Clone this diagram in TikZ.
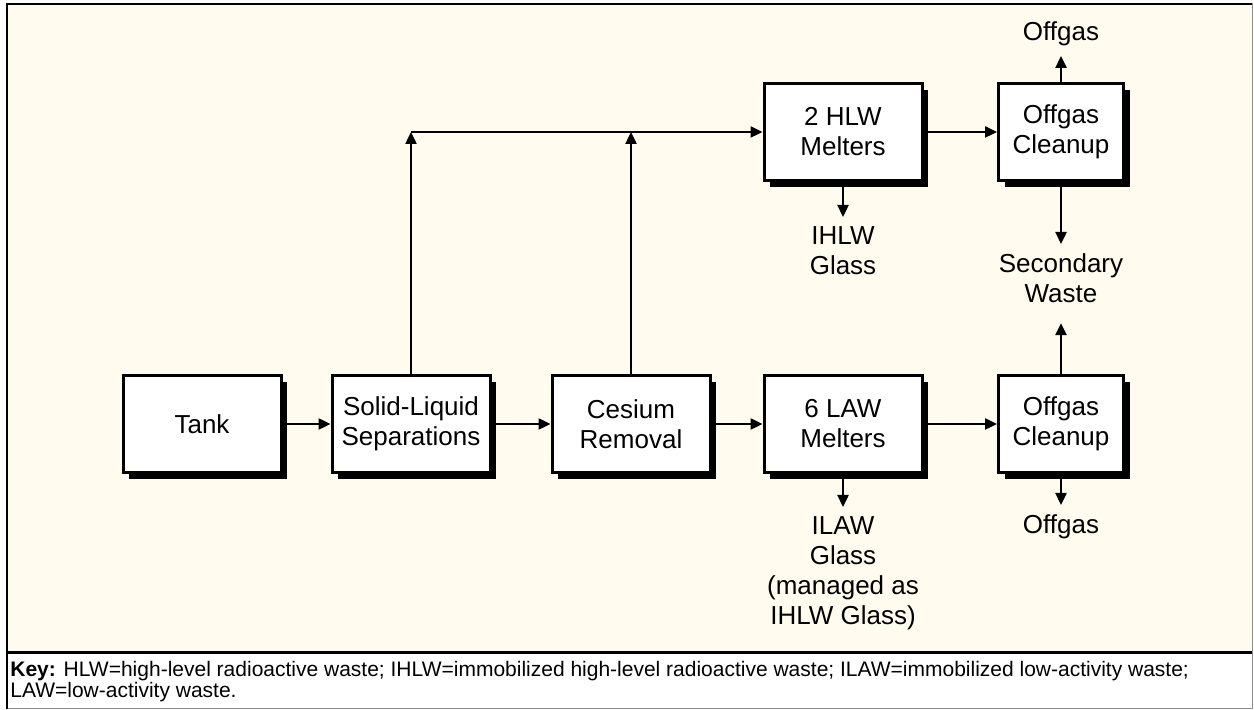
\documentclass[tikz,border=0pt]{standalone}
\usepackage{fontspec}
\setmainfont{Liberation Sans}
\usetikzlibrary{arrows.meta,shadows}
\definecolor{cream}{RGB}{255,252,239}
\definecolor{framegray}{RGB}{140,140,140}
\newcommand\bxfont{\fontsize{13}{15}\selectfont}
\newcommand\kyfont{\fontsize{10.5}{10.2}\selectfont}
\begin{document}
\begin{tikzpicture}[x=0.5pt,y=-0.5pt,
  box/.style={draw=black, line width=1.5pt, fill=white, minimum width=79pt,
    minimum height=48.5pt, align=center, font=\bxfont, inner sep=0pt,
    drop shadow={shadow xshift=3.2pt, shadow yshift=-3.2pt, fill=black, opacity=1}},
  sbox/.style={box, minimum width=62.5pt},
  lab/.style={font=\bxfont, align=center, inner sep=0pt, outer ysep=5pt},
  arr/.style={line width=1.2pt, -{Triangle[length=6pt,width=5.5pt]}}]
\useasboundingbox (0,0) rectangle (1254,710);
\fill[white] (0,0) rectangle (1254,710);
\fill[cream] (7,4) rectangle (1252,653);
\draw[framegray, line width=0.5pt] (7,4) rectangle (1252,709);
\draw[black, line width=1.3pt] (7,709) -- (7,4) -- (1252,4);
\draw[black, line width=1.5pt] (7,653) -- (1252,653);

\node[box] (tank) at (202,424) {Tank};
\node[box] (sl) at (411,424) {Solid-Liquid\\Separations};
\node[box] (cs) at (631,424) {Cesium\\Removal};
\node[box] (law) at (843,424) {6 LAW\\Melters};
\node[sbox] (og2) at (1061,424) {Offgas\\Cleanup};
\node[box] (hlw) at (843,132) {2 HLW\\Melters};
\node[sbox] (og1) at (1061,132) {Offgas\\Cleanup};

\node[lab, anchor=south] (offtop) at (1061,56) {Offgas};
\node[lab, anchor=north] (ihlw) at (843,217) {IHLW\\Glass};
\node[lab, anchor=north] (sec) at (1061,244) {Secondary\\Waste};
\node[lab, anchor=north] (ilaw) at (843,507) {ILAW\\Glass\\(managed as\\IHLW Glass)};
\node[lab, anchor=north] (offbot) at (1061,505) {Offgas};

\coordinate (j1) at (sl.north |- hlw.west);
\coordinate (j2) at (cs.north |- hlw.west);

\draw[arr] (tank.east) -- (sl.west);
\draw[arr] (sl.east) -- (cs.west);
\draw[arr] (cs.east) -- (law.west);
\draw[arr] (law.east) -- (og2.west);
\draw[arr] (hlw.east) -- (og1.west);
\draw[arr] (sl.north) -- (j1);
\draw[arr] (cs.north) -- (j2);
\draw[arr] (j1) -- (hlw.west);
\draw[arr] (og1.north) -- (offtop.south);
\draw[arr] (hlw.south) -- (ihlw.north);
\draw[arr] (og1.south) -- (sec.north);
\draw[arr, shorten >=5pt] (og2.north) -- (sec.south);
\draw[arr] (law.south) -- (ilaw.north);
\draw[arr] (og2.south) -- (offbot.north);

\node[anchor=north west, inner sep=0pt, align=left, font=\kyfont] (key) at (10,661)
  {\textbf{Key:} HLW=high-level radioactive waste; IHLW=immobilized high-level radioactive waste; ILAW=immobilized low-activity waste;\\LAW=low-activity waste.};
\end{tikzpicture}
\end{document}
